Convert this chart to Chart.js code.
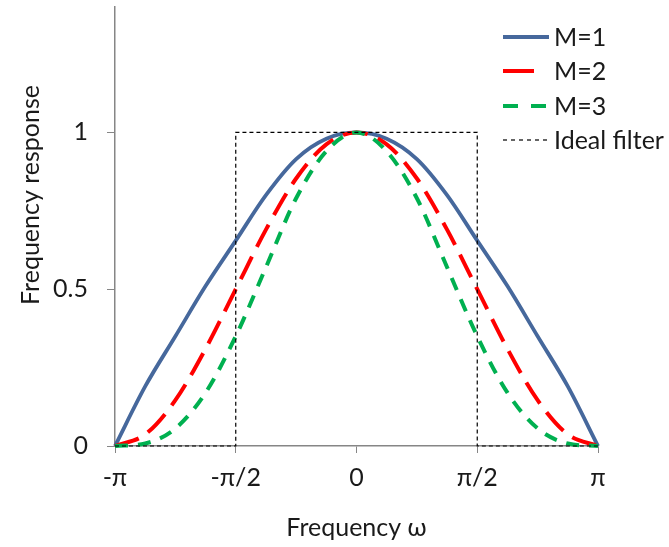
<!DOCTYPE html>
<html>
<head>
<meta charset="utf-8">
<script src="https://cdn.jsdelivr.net/npm/chart.js@4/dist/chart.umd.min.js"></script>
<style>
  html, body { margin: 0; padding: 0; background: #ffffff; }
  #wrap { width: 669px; height: 547px; position: relative; }
</style>
</head>
<body>
<div id="wrap"><canvas id="c" width="669" height="547"></canvas></div>
<script>
// Frequency values in units of π
const omega = [-1, -0.875, -0.75, -0.625, -0.5, -0.375, -0.25, -0.125, 0, 0.125, 0.25, 0.375, 0.5, 0.625, 0.75, 0.875, 1];
const m1 = [0, 0.19, 0.35, 0.51, 0.655, 0.80, 0.915, 0.98, 1, 0.98, 0.915, 0.80, 0.655, 0.51, 0.35, 0.19, 0];
const m2 = [0, 0.037, 0.146, 0.31, 0.5, 0.69, 0.853, 0.962, 1, 0.962, 0.853, 0.69, 0.5, 0.31, 0.146, 0.037, 0];
const m3 = [0, 0.008, 0.056, 0.17, 0.35, 0.57, 0.79, 0.94, 1, 0.94, 0.79, 0.57, 0.35, 0.17, 0.056, 0.008, 0];
const idealX = [-1, -0.5, -0.5, 0.5, 0.5, 1];
const idealY = [0, 0, 1, 1, 0, 0];
const seriesNames = ['M=1', 'M=2', 'M=3', 'Ideal filter'];
const xTickValues = [-1, -0.5, 0, 0.5, 1];
const xTickLabels = ['-π', '-π/2', '0', 'π/2', 'π'];
const yTickValues = [0, 0.5, 1];
const yTickLabels = ['0', '0.5', '1'];
const xTitle = 'Frequency ω';
const yTitle = 'Frequency response';

const FONT = 'Lato, "Open Sans", sans-serif';
const FS = 25;
const AXIS_COLOR = '#868686';

function pts(xs, ys) { return xs.map((x, i) => ({ x: x, y: ys[i] })); }

const legendDash = [[], [31, 30], [15, 13], [4, 4]];

const customLegend = {
  id: 'customLegend',
  afterDraw(chart) {
    const ctx = chart.ctx;
    const ds = chart.data.datasets;
    const rows = [37, 71, 106, 140];
    ctx.save();
    ds.forEach((d, i) => {
      const y = rows[i];
      ctx.beginPath();
      ctx.setLineDash(legendDash[i]);
      ctx.lineWidth = d.borderWidth;
      ctx.strokeStyle = d.borderColor;
      ctx.lineCap = 'butt';
      ctx.moveTo(503, y);
      ctx.lineTo(549, y);
      ctx.stroke();
      ctx.setLineDash([]);
      ctx.fillStyle = '#1a1a1a';
      ctx.font = FS + 'px ' + FONT;
      ctx.textBaseline = 'middle';
      ctx.textAlign = 'left';
      ctx.fillText(d.label, 554, y + 1);
    });
    ctx.restore();
  }
};

const yTitlePlugin = {
  id: 'yTitlePlugin',
  afterDraw(chart) {
    const ctx = chart.ctx;
    ctx.save();
    ctx.translate(31, 195);
    ctx.rotate(-Math.PI / 2);
    ctx.fillStyle = '#1a1a1a';
    ctx.font = FS + 'px ' + FONT;
    ctx.textAlign = 'center';
    ctx.textBaseline = 'middle';
    ctx.fillText(yTitle, 0, 0);
    ctx.restore();
  }
};

new Chart(document.getElementById('c'), {
  type: 'scatter',
  data: {
    datasets: [
      { label: seriesNames[0], data: pts(omega, m1), showLine: true, borderColor: '#46689C', borderWidth: 3.8,
        pointRadius: 0, cubicInterpolationMode: 'monotone', clip: false, order: 3 },
      { label: seriesNames[1], data: pts(omega, m2), showLine: true, borderColor: '#FF0000', borderWidth: 4,
        borderDash: [25, 11], pointRadius: 0, cubicInterpolationMode: 'monotone', clip: false, order: 2 },
      { label: seriesNames[2], data: pts(omega, m3), showLine: true, borderColor: '#00B050', borderWidth: 4,
        borderDash: [13, 10], pointRadius: 0, cubicInterpolationMode: 'monotone', clip: false, order: 1 },
      { label: seriesNames[3], data: pts(idealX, idealY), showLine: true, borderColor: '#000000', borderWidth: 1.2,
        borderDash: [4, 3], pointRadius: 0, tension: 0, clip: false, order: 0 }
    ]
  },
  options: {
    responsive: false,
    animation: false,
    events: [],
    layout: { padding: { left: 0, right: 71, top: 7, bottom: 0 } },
    plugins: { legend: { display: false }, tooltip: { enabled: false } },
    scales: {
      x: {
        type: 'linear', min: -1, max: 1,
        afterBuildTicks(scale) { scale.ticks = xTickValues.map(v => ({ value: v })); },
        afterFit(scale) { scale.height = 101; scale.paddingLeft = 0; scale.paddingRight = 0; },
        ticks: {
          autoSkip: false, maxRotation: 0, padding: 10, color: '#1a1a1a',
          font: { family: FONT, size: FS },
          callback(value) { const i = xTickValues.indexOf(value); return i >= 0 ? xTickLabels[i] : ''; }
        },
        grid: { drawOnChartArea: false, drawTicks: true, tickLength: 7, color: AXIS_COLOR, lineWidth: 1 },
        border: { display: true, color: AXIS_COLOR, width: 1.5 },
        title: { display: true, text: xTitle, color: '#1a1a1a', font: { family: FONT, size: FS }, padding: { top: 0, bottom: 4 } }
      },
      y: {
        type: 'linear', min: 0, max: 1.4,
        afterBuildTicks(scale) { scale.ticks = yTickValues.map(v => ({ value: v })); },
        afterFit(scale) { scale.width = 115; scale.paddingTop = 0; scale.paddingBottom = 0; },
        ticks: {
          padding: 19, color: '#1a1a1a',
          font: { family: FONT, size: FS },
          callback(value) { const i = yTickValues.indexOf(value); return i >= 0 ? yTickLabels[i] : ''; }
        },
        grid: { drawOnChartArea: false, drawTicks: true, tickLength: 8, color: AXIS_COLOR, lineWidth: 1 },
        border: { display: true, color: AXIS_COLOR, width: 1.5 }
      }
    }
  },
  plugins: [customLegend, yTitlePlugin]
});
</script>
</body>
</html>
